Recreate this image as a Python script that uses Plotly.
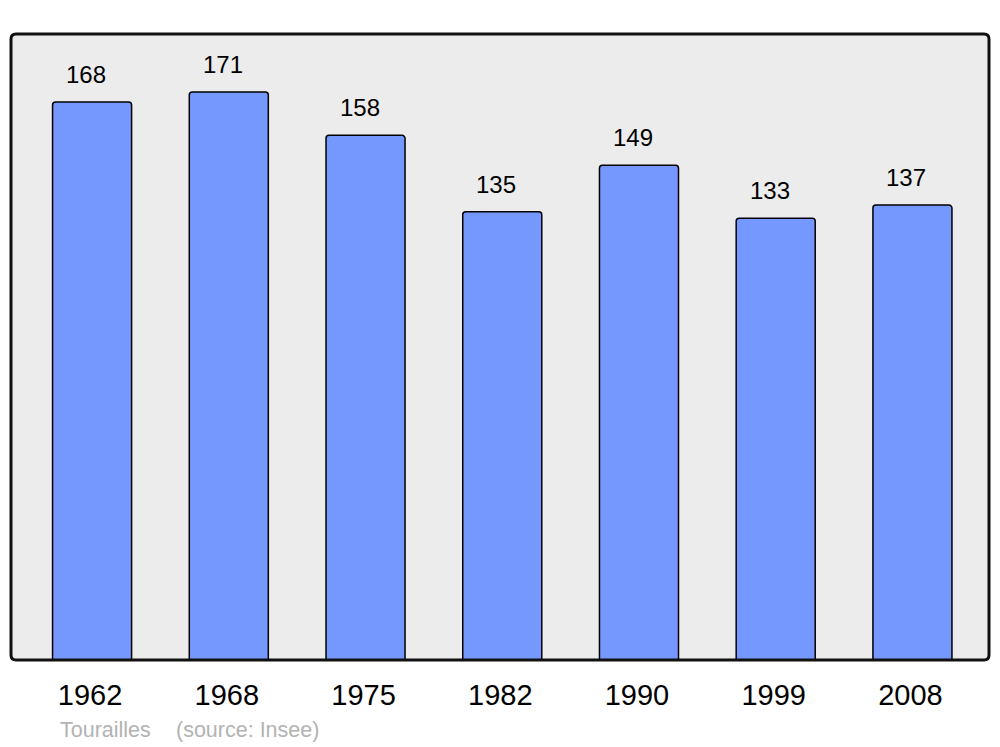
import plotly.graph_objects as go

years = ["1962", "1968", "1975", "1982", "1990", "1999", "2008"]
population = [168, 171, 158, 135, 149, 133, 137]
commune = "Tourailles"
source = "(source: Insee)"

# page has an 8px body margin, so the figure is drawn 8px in from top/left
W, H = 992, 739
ml, mr, mt, mb = 3, 11, 26, 87
pw, ph = W - ml - mr, H - mt - mb
FONT = "Liberation Sans, Arial, sans-serif"

fig = go.Figure()
fig.add_trace(go.Bar(
    x=years, y=population,
    width=0.578,
    marker=dict(color="#7598ff", line=dict(color="black", width=1.5), cornerradius=3),
    hoverinfo="x+y",
))

for i, v in enumerate(population):
    fig.add_annotation(x=i, y=v, xref="x", yref="y", text=str(v), showarrow=False,
                       yanchor="bottom", xshift=-6, yshift=12,
                       font=dict(family=FONT, size=24, color="black"))

# rounded frame
rx, ry = 5 / pw, 5 / ph
path = (f"M {rx},0 L {1-rx},0 Q 1,0 1,{ry} L 1,{1-ry} Q 1,1 {1-rx},1 "
        f"L {rx},1 Q 0,1 0,{1-ry} L 0,{ry} Q 0,0 {rx},0 Z")
fig.add_shape(type="path", path=path, xref="paper", yref="paper",
              line=dict(color="#111111", width=3), layer="above")

foot_y = -(730 - 8 - (H - mb)) / ph
fig.add_annotation(x=(58 - 8 - ml) / pw, y=foot_y, xref="paper", yref="paper",
                   text=commune, showarrow=False, xanchor="left", yanchor="middle",
                   font=dict(family=FONT, size=21.5, color="#b3b3b3"))
fig.add_annotation(x=(174 - 8 - ml) / pw, y=foot_y, xref="paper", yref="paper",
                   text=source, showarrow=False, xanchor="left", yanchor="middle",
                   font=dict(family=FONT, size=21.5, color="#b3b3b3"))

fig.update_layout(
    width=W, height=H,
    margin=dict(l=ml, r=mr, t=mt, b=mb, pad=0),
    paper_bgcolor="white", plot_bgcolor="#ececec",
    showlegend=False,
    xaxis=dict(type="category", range=[-0.593, 6.56], showgrid=False, zeroline=False,
               showline=False, ticks="", ticklabelstandoff=15, ticklabelshift=-2,
               tickfont=dict(family=FONT, size=29, color="black")),
    yaxis=dict(range=[0, 188.5], showgrid=False, zeroline=False, showticklabels=False,
               showline=False),
)

fig.write_html("out.html")
